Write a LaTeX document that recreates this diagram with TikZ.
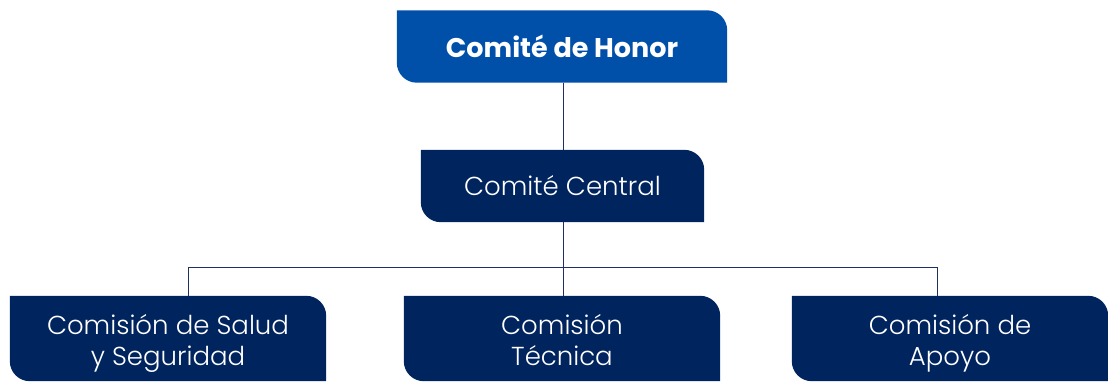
\documentclass[tikz,border=0pt]{standalone}
\usepackage{fontspec}
\setmainfont{Poppins}[UprightFont={* Light},BoldFont={* Bold}]
\usetikzlibrary{backgrounds}
\definecolor{honorblue}{RGB}{0,80,170}
\definecolor{navy}{RGB}{0,36,94}
\definecolor{linecol}{RGB}{30,48,100}
\tikzset{
  orgbox/.style={draw=none,inner sep=0pt,text=white,align=center,font=\fontsize{26}{31}\selectfont},
  leafbox/.style={orgbox,minimum width=316pt,minimum height=85pt,text height=58pt,text depth=5pt},
  conn/.style={draw=linecol,line width=0.9pt}
}
\newcommand{\leafshape}[2]{%
  \begin{pgfonlayer}{background}
  \fill[#2] (#1.north west) -- ([xshift=-20pt]#1.north east) arc[start angle=90,end angle=0,radius=20pt]
    -- (#1.south east) -- ([xshift=20pt]#1.south west) arc[start angle=270,end angle=180,radius=20pt] -- cycle;
  \end{pgfonlayer}}
\begin{document}
\begin{tikzpicture}[x=1pt,y=1pt]
\useasboundingbox (0,0) rectangle (1108,381);
\node[orgbox,minimum width=330pt,minimum height=72pt,font=\bfseries\fontsize{27}{31}\selectfont] (honor) at (562,334.5) {Comité de Honor};
\node[orgbox,minimum width=283pt,minimum height=72pt] (central) at (562.5,195) {Comité Central};
\node[leafbox] (salud) at (168,42.5) {Comisión de Salud\\y Seguridad};
\node[leafbox] (tecnica) at (562,42.5) {Comisión\\Técnica};
\node[leafbox] (apoyo) at (950,42.5) {Comisión de\\Apoyo};
\leafshape{honor}{honorblue}
\leafshape{central}{navy}
\leafshape{salud}{navy}
\leafshape{tecnica}{navy}
\leafshape{apoyo}{navy}
\coordinate (busL) at (188,114);
\coordinate (busC) at (563,114);
\coordinate (busR) at (937,114);
\draw[conn] (honor.south -| busC) -- (central.north -| busC);
\draw[conn] (central.south -| busC) -- (busC);
\draw[conn] (busL) -- (busR);
\draw[conn] (busL) -- (salud.north -| busL);
\draw[conn] (busC) -- (tecnica.north -| busC);
\draw[conn] (busR) -- (apoyo.north -| busR);
\end{tikzpicture}
\end{document}
